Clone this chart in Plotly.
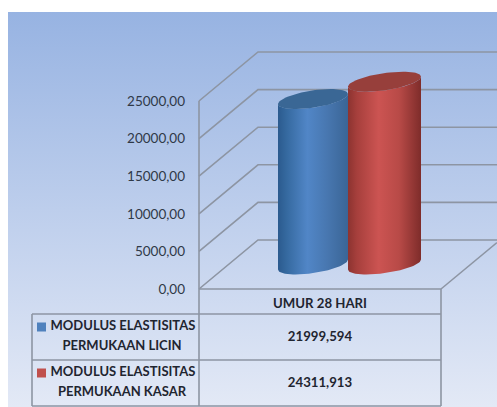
import numpy as np
import plotly.graph_objects as go

# ---- data ----
category = "UMUR 28 HARI"
series_names = [["MODULUS ELASTISITAS", "PERMUKAAN LICIN"],
                ["MODULUS ELASTISITAS", "PERMUKAAN KASAR"]]
series_values = [21999.594, 24311.913]
value_labels = ["21999,594", "24311,913"]
tick_values = [0, 5000, 10000, 15000, 20000, 25000]
tick_labels = ["0,00", "5000,00", "10000,00", "15000,00", "20000,00", "25000,00"]

# ---- styles and layout ----
side_colors = [
    [[0, "#2b5a8e"], [0.12, "#35699f"], [0.42, "#5186c7"], [0.7, "#4877b0"], [1, "#3a6596"]],
    [[0, "#8c3330"], [0.12, "#a63f3c"], [0.42, "#cc5452"], [0.7, "#b84a47"], [1, "#7e2c2a"]],
]
top_colors = ["#3a6795", "#973f3b"]
key_colors = ["#4f81bd", "#c0504d"]
LINE = "#8d95a3"
TXT = "#2f3947"
W, H = 497, 407
FRONT_ZERO_PX, FRONT_TOP_PX = 289, 101
PER_PX = 25000 / (FRONT_ZERO_PX - FRONT_TOP_PX)


def v(py):
    """Convert a window pixel row to the value axis."""
    return (FRONT_ZERO_PX - np.asarray(py, dtype=float)) * PER_PX


fig = go.Figure()


def line(xs, ys, color=LINE, width=1.6):
    fig.add_trace(go.Scatter(x=xs, y=ys, mode="lines", line=dict(color=color, width=width),
                             hoverinfo="skip", showlegend=False))


# background panel
fig.add_trace(go.Scatter(
    x=[8, W, W, 8, 8], y=v([12, 12, H, H, 12]), mode="lines", fill="toself",
    line=dict(width=0), hoverinfo="skip", showlegend=False,
    fillgradient=dict(type="vertical", colorscale=[[0, "#e3e9f6"], [1, "#97b3e2"]]),
))

# walls: oblique gridlines from the front axis to the back wall
DX, DY = 59, 49 * PER_PX
for t in tick_values:
    line([199, 199 + DX, W], [t, t + DY, t + DY])
line([199, 199], [0, 25000])
# floor and table rules
line([441, W], [0, 46.5 * PER_PX])
line([199, 441], [0, 0])
line([199, 199], [v(289), v(406)])
line([441, 441], [v(289), v(406)])
line([32, 32], [v(314), v(406)])
for row in (314, 360, 406):
    line([32, 441], [v(row), v(row)])

# cylinders
centers = [313, 384.5]
half_w = [35, 36.5]
FOOT = 24.5 * PER_PX
TILT, OPEN = 5 * PER_PX, 8.66 * PER_PX
for val, cx, hw, sc, tc in zip(series_values, centers, half_w, side_colors, top_colors):
    low = np.linspace(np.pi, 0, 40)   # front arc, left to right
    top = val + FOOT
    body_x = np.r_[cx + hw * np.cos(low), cx + hw * np.cos(low[::-1])]
    body_y = np.r_[FOOT + TILT * np.cos(low) - OPEN * np.sin(low),
                   top + TILT * np.cos(low[::-1]) - OPEN * np.sin(low[::-1])]
    fig.add_trace(go.Scatter(
        x=np.r_[body_x, body_x[0]], y=np.r_[body_y, body_y[0]], mode="lines", fill="toself",
        line=dict(width=0), hoverinfo="skip", showlegend=False,
        fillgradient=dict(type="horizontal", colorscale=sc),
    ))
    ang = np.linspace(0, 2 * np.pi, 80)
    fig.add_trace(go.Scatter(
        x=cx + hw * np.cos(ang), y=top + TILT * np.cos(ang) + OPEN * np.sin(ang),
        mode="lines", fill="toself", fillcolor=tc, line=dict(width=0),
        hoverinfo="skip", showlegend=False,
    ))

# table text
bold = dict(family="Lato, Carlito, sans-serif", size=13.2, color="#1f2530")
legend_font = dict(family="Lato, Carlito, sans-serif", size=13, color="#1f2530")


def text(x, py, s, font=bold):
    fig.add_trace(go.Scatter(x=[x], y=[v(py)], mode="text", text=[f"<b>{s}</b>"],
                             textposition="middle center", textfont=font,
                             hoverinfo="skip", showlegend=False, cliponaxis=False))


text(320, 305, category)
for i, (names, label) in enumerate(zip(series_names, value_labels)):
    top_px = 327 + 46 * i
    text(123, top_px, names[0], legend_font)
    text(122, top_px + 20, names[1], legend_font)
    text(320, top_px + 11, label)
    fig.add_trace(go.Scatter(x=[41.5], y=[v(top_px)], mode="markers",
                             marker=dict(symbol="square", size=9, color=key_colors[i]),
                             hoverinfo="skip", showlegend=False))

fig.update_layout(
    width=W, height=H, margin=dict(l=0, r=0, t=0, b=0),
    paper_bgcolor="white", plot_bgcolor="white", showlegend=False,
    xaxis=dict(range=[0, W], domain=[0, 1], visible=False, fixedrange=True),
    yaxis=dict(range=[v(H), v(0)], domain=[0, 1], anchor="free", position=185 / W, side="left",
               tickmode="array", tickvals=tick_values, ticktext=tick_labels,
               showgrid=False, zeroline=False, showline=False, ticks="", fixedrange=True,
               tickfont=dict(family="Lato, Carlito, sans-serif", size=13.5, color=TXT)),
)
fig.write_html("out.html", config=dict(displayModeBar=False),
               post_script="document.body.style.margin='0';document.body.style.overflow='hidden';")
